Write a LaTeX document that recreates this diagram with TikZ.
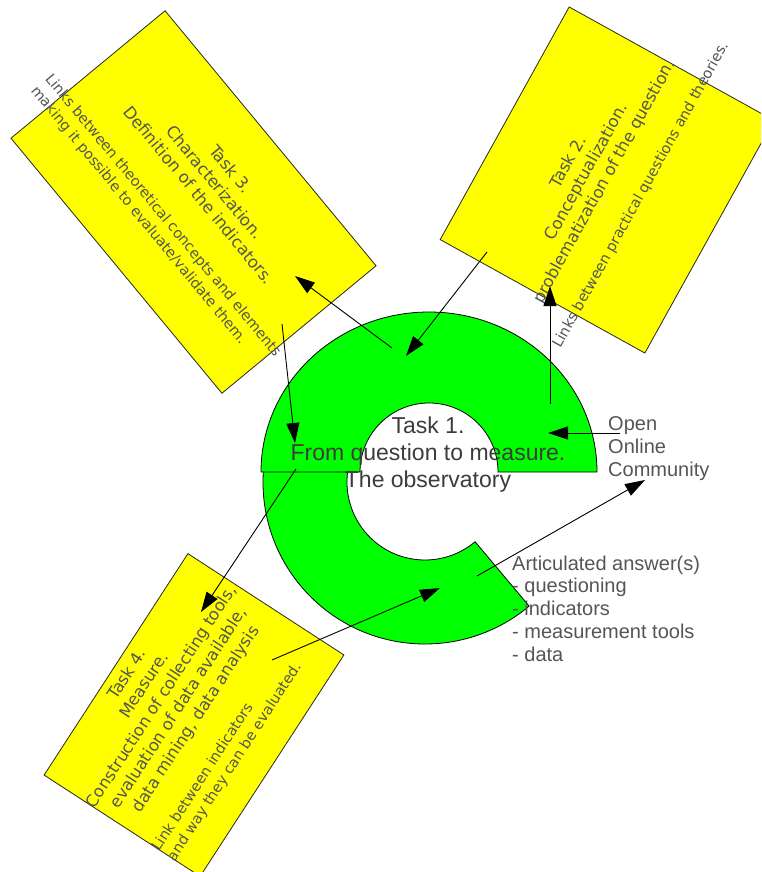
\documentclass[tikz,border=0pt]{standalone}
\usepackage{fontspec}
\setmainfont{Liberation Sans}
\newfontfamily\boxfont{DejaVu Sans}
\usetikzlibrary{arrows.meta}

\definecolor{boxyellow}{RGB}{255,255,0}
\definecolor{ringgreen}{RGB}{0,255,0}
\definecolor{txtgray}{RGB}{85,85,85}
\definecolor{midgray}{RGB}{60,60,60}

\tikzset{
  taskbox/.style={draw=black!85, fill=boxyellow, line width=0.8, inner sep=0pt},
  ring/.style={draw=black, fill=ringgreen, line width=0.8},
  boxtitle/.style={text=txtgray, align=center, inner sep=0pt, font=\boxfont\fontsize{16.5}{20.5}\selectfont},
  boxnote/.style={text=txtgray, align=left, anchor=west, inner sep=0pt, font=\boxfont\fontsize{14.5}{18.5}\selectfont},
  sidetext/.style={text=txtgray, align=left, anchor=west, inner sep=0pt, font=\fontsize{20}{22.7}\selectfont},
  link/.style={-{Triangle[length=20pt,width=13pt]}, line width=0.9},
}

\begin{document}
\begin{tikzpicture}[x=1pt,y=1pt,yscale=-1]
\path[use as bounding box, clip] (0,0) rectangle (761,872);

% Task boxes
\node[taskbox, rotate=-50.4, minimum width=331, minimum height=200] (task3) at (193.5,202) {};
\node[taskbox, rotate=61, minimum width=266, minimum height=234] (task2) at (607,180) {};
\node[taskbox, rotate=57, minimum width=264, minimum height=186] (task4) at (194,715) {};

% Ring, lower part then upper part
\draw[ring] (263.45,470) arc[start angle=184.25, end angle=50, radius=162]
  -- (475.1,541.75) arc[start angle=50, end angle=188.85, radius=78] -- cycle;
\draw[ring] (261,472) arc[start angle=180, end angle=360, x radius=168, y radius=160]
  -- (498,472) arc[start angle=0, end angle=-180, radius=69] -- cycle;

% Text Node
\node[boxtitle, rotate=-50.4] (t3title) at (215,182) {Task 3.\\Characterization.\\Definition of the indicators.};
\node[boxnote, rotate=-50.4] (t3note) at (40.5,82.5) {Links between theoretical concepts and elements\\making it possible to evaluate/validate them.};
% Text Node
\node[boxtitle, rotate=61] (t2title) at (587,172) {Task 2.\\Conceptualization.\\problematization of the question.};
\node[boxnote, anchor=center, rotate=61] (t2note) at (641,195) {Links between practical questions and theories.};
% Text Node
\node[boxtitle, rotate=57] (t4title) at (162,697) {Task 4.\\Measure.\\Construction of collecting tools,\\evaluation of data available,\\data mining, data analysis};
\node[boxnote, rotate=57] (t4note) at (163.5,855) {Link between indicators\\and way they can be evaluated.};
% Text Node
\node[text=midgray, align=center, inner sep=0pt, font=\fontsize{23}{27}\selectfont] (task1) at (428,455) {Task 1.\\From question to measure.\\The observatory};
\node[sidetext] (community) at (608,448.5) {Open\\Online\\Community};
\node[sidetext] (answer) at (512,608.5) {Articulated answer(s)\\- questioning\\- indicators\\- measurement tools\\- data};

% arrow ends
\coordinate (ringA) at (392,348);
\coordinate (in3) at (295,276);
\coordinate (out3) at (282,324);
\coordinate (ringB) at (295,443);
\coordinate (out2) at (487,252);
\coordinate (ringC) at (406,356);
\coordinate (ringD) at (550,404);
\coordinate (in2) at (550,286);
\coordinate (occA) at (620,433);
\coordinate (ringE) at (548,433);
\coordinate (ringF) at (477,576);
\coordinate (occB) at (645,480);
\coordinate (out4) at (272,660);
\coordinate (ringG) at (440,588);
\coordinate (ringH) at (296,469);
\coordinate (in4) at (201,612);

%Straight Lines
\draw[link] (ringA) -- (in3);
\draw[link] (out3) -- (ringB);
\draw[link] (out2) -- (ringC);
\draw[link] (ringD) -- (in2);
\draw[link] (occA) -- (ringE);
\draw[link] (ringF) -- (occB);
\draw[link] (out4) -- (ringG);
\draw[link] (ringH) -- (in4);

\end{tikzpicture}
\end{document}
